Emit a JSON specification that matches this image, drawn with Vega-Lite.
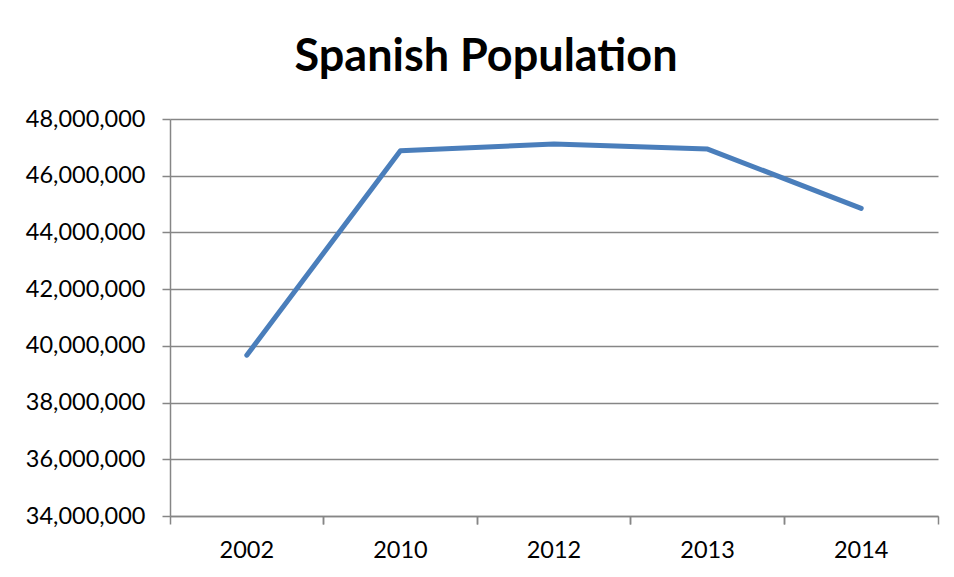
{
  "$schema": "https://vega.github.io/schema/vega-lite/v6.json",
  "width": 768,
  "height": 397,
  "autosize": {"type": "none"},
  "padding": {"left": 170, "top": 119, "right": 16, "bottom": 61},
  "background": "white",
  "config": {
    "view": {"stroke": null},
    "font": "Lato"
  },
  "title": {
    "text": "Spanish Population",
    "font": "Lato",
    "fontSize": 45,
    "fontWeight": "bold",
    "color": "black",
    "anchor": "middle",
    "dx": -68,
    "offset": 27
  },
  "data": {
    "values": [
      {"year": "2002", "population": 39670000},
      {"year": "2010", "population": 46880000},
      {"year": "2012", "population": 47120000},
      {"year": "2013", "population": 46940000},
      {"year": "2014", "population": 44850000}
    ]
  },
  "encoding": {
    "y": {
      "field": "population",
      "type": "quantitative",
      "scale": {"domain": [34000000, 48000000], "nice": false, "zero": false},
      "axis": {
        "title": null,
        "values": [34000000, 36000000, 38000000, 40000000, 42000000, 44000000, 46000000, 48000000],
        "format": ",d",
        "grid": true,
        "gridColor": "#868686",
        "gridWidth": 1.5,
        "domainColor": "#868686",
        "domainWidth": 1.5,
        "tickColor": "#868686",
        "tickWidth": 1.5,
        "tickSize": 8,
        "labelFont": "Lato",
        "labelFontSize": 23.5,
        "labelColor": "black",
        "labelPadding": 17
      }
    }
  },
  "layer": [
    {
      "mark": {"type": "line", "color": "#4a7ebb", "strokeWidth": 5, "strokeCap": "round", "strokeJoin": "round"},
      "encoding": {
        "x": {
          "field": "year",
          "type": "ordinal",
          "bandPosition": 0.5,
          "scale": {"type": "band", "paddingInner": 0, "paddingOuter": 0},
          "axis": {
            "orient": "bottom",
            "title": null,
            "labelAngle": 0,
            "ticks": false,
            "domainColor": "#868686",
            "domainWidth": 1.5,
            "labelFont": "Lato",
            "labelFontSize": 23.5,
            "labelColor": "black",
            "labelPadding": 22
          }
        }
      }
    },
    {
      "mark": {"type": "line", "opacity": 0},
      "encoding": {
        "x": {
          "field": "year",
          "type": "ordinal",
          "scale": {"type": "band", "paddingInner": 0, "paddingOuter": 0},
          "axis": {
            "orient": "bottom",
            "title": null,
            "labels": false,
            "domain": false,
            "bandPosition": 0,
            "tickColor": "#868686",
            "tickWidth": 1.5,
            "tickSize": 8
          }
        }
      }
    },
    {
      "mark": {"type": "line", "opacity": 0},
      "encoding": {
        "x": {
          "field": "year",
          "type": "ordinal",
          "scale": {"type": "band", "paddingInner": 0, "paddingOuter": 0},
          "axis": {
            "orient": "bottom",
            "title": null,
            "labels": false,
            "domain": false,
            "bandPosition": 1,
            "tickColor": "#868686",
            "tickWidth": 1.5,
            "tickSize": 8
          }
        }
      }
    }
  ],
  "resolve": {"axis": {"x": "independent"}}
}
